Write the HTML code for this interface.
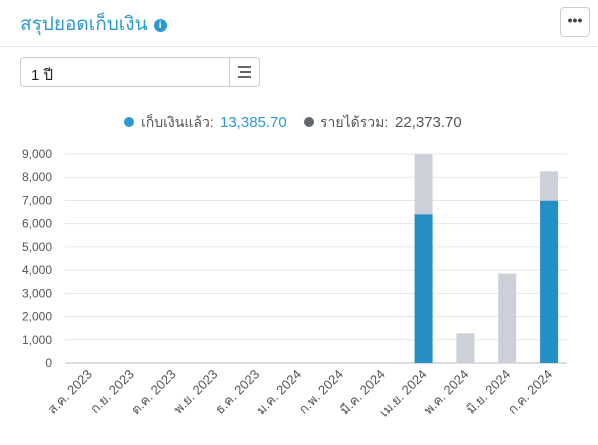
<!DOCTYPE html>
<html><head><meta charset="utf-8"><style>
body{margin:0;width:598px;height:445px;background:#fff;font-family:"Liberation Sans","Noto Sans CJK SC",sans-serif;overflow:hidden;position:relative}
.title{position:absolute;left:20px;top:9px;font-size:19px;color:#2b98cf}
.info{display:inline-block;width:13px;height:13px;border-radius:50%;background:#2b98cf;color:#fff;font-size:10px;font-weight:bold;text-align:center;line-height:13px;vertical-align:2px;margin-left:6px}
.more{position:absolute;left:560px;top:7px;width:28px;height:28px;border:1px solid #ccc;border-radius:4px;text-align:center;line-height:24px;font-size:14px;font-weight:bold;color:#444}
.hr{position:absolute;left:0;top:46px;width:598px;height:1px;background:#e4e4e4}
.sel{position:absolute;left:20px;top:57px;width:238px;height:28px;border:1px solid #ccc;border-radius:4px}
.sel span{position:absolute;left:10px;top:5px;font-size:15px;color:#222}
.sel .btn{position:absolute;right:0;top:0;width:29px;height:28px;border-left:1px solid #ccc}
</style></head><body>
<div class="title">สรุปยอดเก็บเงิน<span class="info">i</span></div>
<div class="more">•••</div>
<div class="hr"></div>
<div class="sel"><span>1 ปี</span><div class="btn">
<svg width="29" height="28"><rect x="8" y="8" width="13" height="2" fill="#666"/><rect x="10" y="13" width="11" height="2" fill="#666"/><rect x="8" y="18" width="13" height="2" fill="#666"/></svg></div></div>
<svg id="chart" width="598" height="445" style="position:absolute;left:0;top:0"></svg>
<script>
const categories=["ส.ค. 2023","ก.ย. 2023","ต.ค. 2023","พ.ย. 2023","ธ.ค. 2023","ม.ค. 2024","ก.พ. 2024","มี.ค. 2024","เม.ย. 2024","พ.ค. 2024","มิ.ย. 2024","ก.ค. 2024"];
const collected=[0,0,0,0,0,0,0,0,6400,0,0,6986];
const totalIncome=[0,0,0,0,0,0,0,0,8990,1280,3850,8254];
const yTicks=[0,1000,2000,3000,4000,5000,6000,7000,8000,9000];
const legendLabels=["เก็บเงินแล้ว:","รายได้รวม:"];
const legendValues=["13,385.70","22,373.70"];
const NS="http://www.w3.org/2000/svg",svg=document.getElementById('chart');
const x0=65,x1=567,y0=363,y1=154;
const band=(x1-x0)/categories.length;
const xc=i=>x0+3+band*(i+0.5);
const y=v=>y0-(v/9000)*(y0-y1);
function el(t,a){const e=document.createElementNS(NS,t);for(const k in a)e.setAttribute(k,a[k]);svg.appendChild(e);return e;}
yTicks.forEach(t=>{
 const g=el('line',{x1:x0,x2:x1,y1:y(t),y2:y(t),stroke:t?'#e6e6e6':'#bbb','stroke-width':1});
 
 
 const tx=el('text',{x:52,y:y(t)+4,'text-anchor':'end','font-size':12,fill:'#555'});
 tx.textContent=t.toLocaleString('en-US');
 
 
});
categories.forEach((c,i)=>{
 const bw=18;
 if(totalIncome[i]>0){
  const r=el('rect',{x:xc(i)-bw/2,y:y(totalIncome[i]),width:bw,height:y0-y(totalIncome[i]),fill:'#ccd0d8'});
  
  
 }
 if(collected[i]>0){
  const r=el('rect',{x:xc(i)-bw/2,y:y(collected[i]),width:bw,height:y0-y(collected[i]),fill:'#238fc4'});
  
  
 }
 const tx=el('text',{x:xc(i)+4,y:y0+12,'text-anchor':'end','font-size':13,fill:'#555',transform:`rotate(-45 ${xc(i)+4} ${y0+12})`});
 tx.textContent=c;
 
 
});
const lg=[[129,'#2b98cf','#2b98cf',141,220],[309,'#5f6670','#555',320,395]];
lg.forEach((L,k)=>{
 const d=el('circle',{cx:L[0],cy:122,r:5,fill:L[1]});
 
 
 const t=el('text',{x:L[3],y:127,'font-size':14,fill:'#555'});
 t.textContent=legendLabels[k];
 
 
 const v=el('text',{x:L[4],y:127,'font-size':15,fill:L[2]});
 v.textContent=legendValues[k];
 
 
});
</script>
</body></html>
